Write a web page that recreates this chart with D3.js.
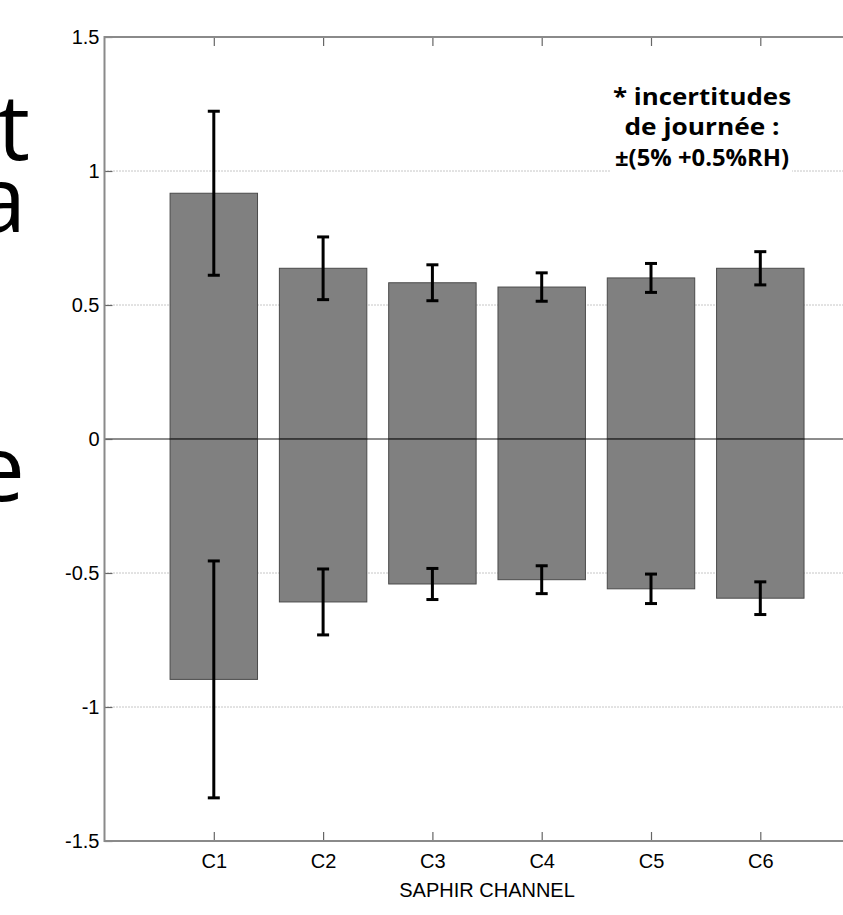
<!DOCTYPE html>
<html>
<head>
<meta charset="utf-8">
<script src="https://cdn.jsdelivr.net/npm/d3@7"></script>
<style>
  html, body { margin: 0; padding: 0; background: #fff; overflow: hidden; }
  svg { display: block; }
</style>
</head>
<body>
<script>
// ---- data ----
const categories = ["C1", "C2", "C3", "C4", "C5", "C6"];
const posValues = [0.917, 0.637, 0.583, 0.567, 0.601, 0.637];
const posErrors = [0.306, 0.117, 0.067, 0.053, 0.054, 0.062];
const negValues = [-0.897, -0.608, -0.541, -0.525, -0.559, -0.594];
const negErrors = [0.442, 0.123, 0.058, 0.052, 0.055, 0.061];
const yTicks = [-1.5, -1, -0.5, 0, 0.5, 1, 1.5];
const yTickLabels = ["-1.5", "-1", "-0.5", "0", "0.5", "1", "1.5"];
const xTitle = "SAPHIR CHANNEL";
const noteLines = ["* incertitudes", "de journée :", "±(5% +0.5%RH)"];
const sideLetters = ["t", "a", "e"];

(function () {
// ---- layout ----
const W = 843, H = 915;
const pLeft = 104.5, pTop = 37, pBottom = 841;
const step = 109.3;
const pRight = pLeft + 7 * step;

const svg = d3.select("body").append("svg").attr("width", W).attr("height", H);

const x = d3.scaleLinear().domain([0, 7]).range([pLeft, pRight]);
const y = d3.scaleLinear().domain([-1.5, 1.5]).range([pBottom, pTop]);

// cut-off slide text on the left
const sideBaselines = [160, 232, 501];
const sideRight = [30, 26, 25];
svg.append("g").selectAll("text").data(sideLetters).join("text")
  .attr("x", (d, i) => sideRight[i])
  .attr("y", (d, i) => sideBaselines[i])
  .attr("text-anchor", "end")
  .attr("font-family", "'Open Sans', Lato, sans-serif")
  .attr("font-size", 92)
  .attr("fill", "#000")
  .text(d => d);

// gridlines (dotted)
svg.append("g").selectAll("line").data(yTicks.filter(t => t !== 0 && Math.abs(t) !== 1.5)).join("line")
  .attr("x1", pLeft).attr("x2", pRight)
  .attr("y1", d => y(d)).attr("y2", d => y(d))
  .attr("stroke", "#8c8c8c").attr("stroke-width", 1)
  .attr("stroke-dasharray", "1,2");

// bars
const bw = 0.4;
const barG = svg.append("g");
barG.selectAll("rect.pos").data(posValues).join("rect").attr("class", "pos")
  .attr("x", (d, i) => x(i + 1 - bw)).attr("width", (d, i) => x(i + 1 + bw) - x(i + 1 - bw))
  .attr("y", d => y(d)).attr("height", d => y(0) - y(d))
  .attr("fill", "#808080").attr("stroke", "#4a4a4a").attr("stroke-width", 1);
barG.selectAll("rect.neg").data(negValues).join("rect").attr("class", "neg")
  .attr("x", (d, i) => x(i + 1 - bw)).attr("width", (d, i) => x(i + 1 + bw) - x(i + 1 - bw))
  .attr("y", y(0)).attr("height", d => y(d) - y(0))
  .attr("fill", "#808080").attr("stroke", "#4a4a4a").attr("stroke-width", 1);

// zero line
svg.append("line")
  .attr("x1", pLeft).attr("x2", pRight).attr("y1", y(0)).attr("y2", y(0))
  .attr("stroke", "#1a1a1a").attr("stroke-width", 1);

// error bars
const cap = 0.055;
function errBars(vals, errs, cls) {
  const g = svg.append("g").attr("class", cls);
  const d = vals.map((v, i) => ({ i: i + 1, lo: v - errs[i], hi: v + errs[i] }));
  g.selectAll("line.v").data(d).join("line").attr("class", "v")
    .attr("x1", e => x(e.i)).attr("x2", e => x(e.i))
    .attr("y1", e => y(e.lo)).attr("y2", e => y(e.hi))
    .attr("stroke", "#000").attr("stroke-width", 3);
  ["lo", "hi"].forEach(k => {
    g.selectAll("line.c" + k).data(d).join("line").attr("class", "c" + k)
      .attr("x1", e => x(e.i - cap)).attr("x2", e => x(e.i + cap))
      .attr("y1", e => y(e[k])).attr("y2", e => y(e[k]))
      .attr("stroke", "#000").attr("stroke-width", 3);
  });
}
errBars(posValues, posErrors, "errpos");
errBars(negValues, negErrors, "errneg");

// axes box
const axisColor = "#8a8a8a";
const yAxisL = d3.axisLeft(y).tickValues(yTicks).tickSizeInner(-8).tickSizeOuter(0)
  .tickFormat((d, i) => yTickLabels[i]).tickPadding(5);
const gy = svg.append("g").attr("transform", `translate(${pLeft},0)`).call(yAxisL);
gy.select(".domain").remove();
gy.selectAll(".tick line").attr("stroke", "#666").attr("stroke-width", 1.2);
gy.selectAll(".tick text").attr("font-family", "'Liberation Sans', Arial, sans-serif")
  .attr("font-size", 20).attr("fill", "#000");

const yAxisR = d3.axisRight(y).tickValues(yTicks).tickSizeInner(-8).tickSizeOuter(0).tickFormat("");
const gyr = svg.append("g").attr("transform", `translate(${pRight},0)`).call(yAxisR);
gyr.select(".domain").remove();
gyr.selectAll(".tick line").attr("stroke", "#666");

const xAxisB = d3.axisBottom(x).tickValues(d3.range(1, 7)).tickSizeInner(-9).tickSizeOuter(0)
  .tickFormat((d, i) => categories[i]).tickPadding(13);
const gx = svg.append("g").attr("transform", `translate(0,${pBottom})`).call(xAxisB);
gx.select(".domain").remove();
gx.selectAll(".tick line").attr("stroke", "#666").attr("stroke-width", 1.2);
gx.selectAll(".tick text").attr("font-family", "'Liberation Sans', Arial, sans-serif")
  .attr("font-size", 20).attr("fill", "#000");

const xAxisT = d3.axisTop(x).tickValues(d3.range(1, 7)).tickSizeInner(-9).tickSizeOuter(0).tickFormat("");
const gxt = svg.append("g").attr("transform", `translate(0,${pTop})`).call(xAxisT);
gxt.select(".domain").remove();
gxt.selectAll(".tick line").attr("stroke", "#666").attr("stroke-width", 1.2);

svg.append("rect")
  .attr("x", pLeft).attr("y", pTop).attr("width", pRight - pLeft).attr("height", pBottom - pTop)
  .attr("fill", "none").attr("stroke", axisColor).attr("stroke-width", 2);

// x title
svg.append("text")
  .attr("x", x(3.5)).attr("y", 897)
  .attr("text-anchor", "middle")
  .attr("font-family", "'Liberation Sans', Arial, sans-serif")
  .attr("font-size", 20).attr("fill", "#000")
  .text(xTitle);

// annotation
const noteX = 702;
const noteBase = [105, 135, 166];
const noteLen = [178, 155, 174];
svg.append("rect").attr("x", 611).attr("y", 150).attr("width", 181).attr("height", 30).attr("fill", "#fff");
svg.append("g").selectAll("text").data(noteLines).join("text")
  .attr("x", noteX).attr("y", (d, i) => noteBase[i])
  .attr("text-anchor", "middle")
  .attr("font-family", "'Open Sans', Lato, sans-serif")
  .attr("font-weight", "bold")
  .attr("font-size", 24).attr("fill", "#000")
  .attr("textLength", (d, i) => noteLen[i])
  .attr("lengthAdjust", "spacingAndGlyphs")
  .text(d => d);
})();
</script>
</body>
</html>
